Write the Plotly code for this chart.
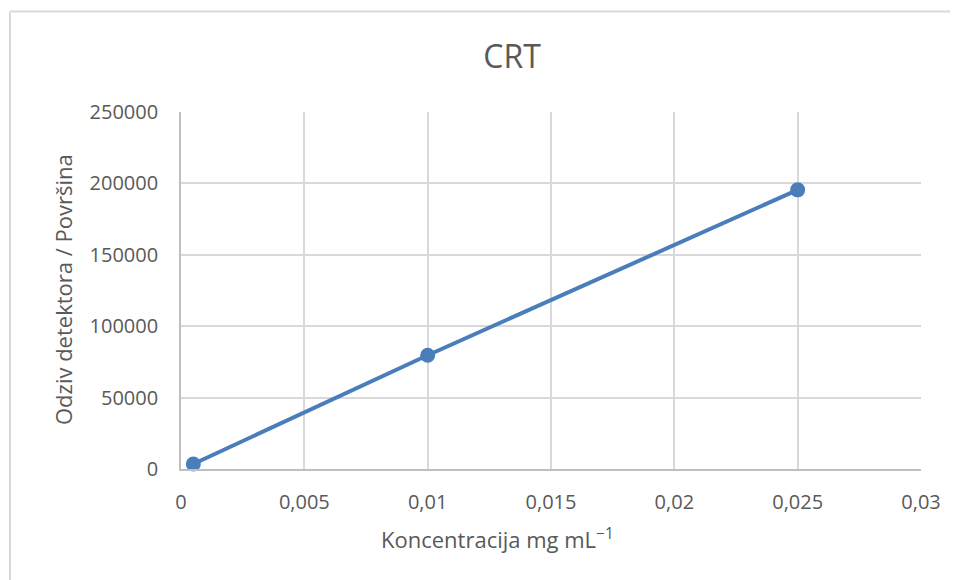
import plotly.graph_objects as go

concentration = [0.0005, 0.01, 0.025]
response = [3500, 79700, 195500]

title_text = "CRT"
x_title = "Koncentracija mg mL<sup>\u22121</sup>"
y_title = "Odziv detektora / Površina"

# page has an 8px body margin; work in page pixels and convert
OFF = 8
W, H = 958 - OFF, 580 - OFF
L, R, T, B = 181 - OFF, 921 - OFF, 112 - OFF, 469 - OFF

fig = go.Figure()
fig.add_trace(go.Scatter(
    x=concentration, y=response, mode="lines+markers",
    line=dict(color="#4a7ebb", width=4),
    marker=dict(color="#4a7ebb", size=15),
    showlegend=False, cliponaxis=False,
))

font_family = "Open Sans, Lato, sans-serif"
grey = "#595959"

fig.update_layout(
    width=W, height=H,
    margin=dict(l=L, r=W - R, t=T, b=H - B, pad=0),
    paper_bgcolor="white", plot_bgcolor="white",
    separators=",.",
    font=dict(family=font_family, color=grey, size=20),
    title=dict(text=title_text, xref="container", yref="container",
               x=(512 - OFF) / W, y=1 - (57 - OFF) / H, xanchor="center", yanchor="middle",
               font=dict(size=32, color=grey, family=font_family)),
    xaxis=dict(range=[0, 0.03], dtick=0.005, tick0=0, showgrid=True,
               gridcolor="#d9d9d9", gridwidth=1.6, zeroline=False,
               showline=True, linecolor="#bfbfbf", linewidth=1.6,
               ticks="", ticklabelstandoff=14,
               tickfont=dict(size=20, color=grey)),
    yaxis=dict(range=[0, 250000], dtick=50000, tick0=0, showgrid=True,
               gridcolor="#d9d9d9", gridwidth=1.6, zeroline=False,
               showline=True, linecolor="#bfbfbf", linewidth=1.6,
               tickformat="d",
               ticks="", ticklabelstandoff=17,
               tickfont=dict(size=20, color=grey)),
)

pw, ph = R - L, B - T
def px(x):
    return (x - OFF - L) / pw
def py(y):
    return (B - (y - OFF)) / ph

fig.add_annotation(text=x_title, xref="paper", yref="paper",
                   x=px(497), y=py(538), xanchor="center", yanchor="middle",
                   showarrow=False, font=dict(size=22, color=grey, family=font_family))
fig.add_annotation(text=y_title, xref="paper", yref="paper",
                   x=px(63), y=py(290), xanchor="center", yanchor="middle",
                   textangle=-90, showarrow=False,
                   font=dict(size=22, color=grey, family=font_family))

# chart-area border (Excel style)
bx, by = px(10), py(11.5)
fig.add_shape(type="line", xref="paper", yref="paper", x0=bx, y0=by, x1=px(990), y1=by,
              line=dict(color="#d9d9d9", width=2))
fig.add_shape(type="line", xref="paper", yref="paper", x0=bx, y0=by, x1=bx, y1=py(600),
              line=dict(color="#d9d9d9", width=2))

fig.write_html("out.html")
